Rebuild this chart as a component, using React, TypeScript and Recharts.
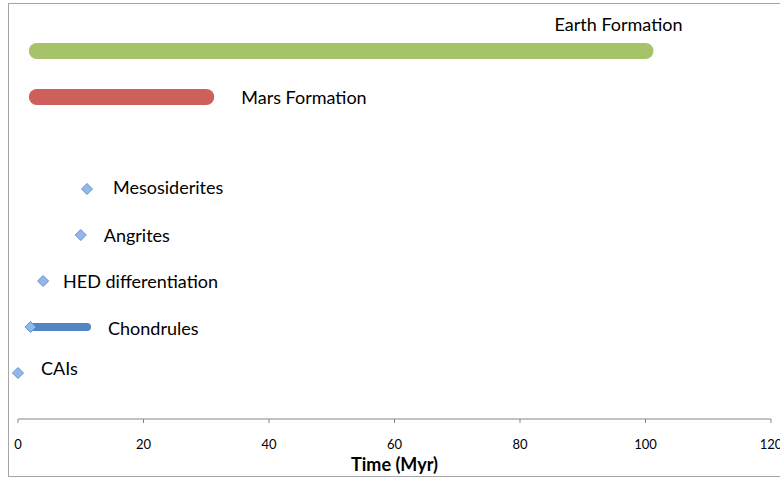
import React from 'react';
import { ComposedChart, Scatter, XAxis, YAxis } from 'recharts';

// ---- data ----
const EVENTS = [
  'CAIs',
  'Chondrules',
  'HED differentiation',
  'Angrites',
  'Mesosiderites',
  'Mars Formation',
  'Earth Formation',
];
const START_MYR = [0, 2, 4, 10, 11, 3, 3];
const END_MYR: (number | null)[] = [null, 11, null, null, null, 30, 100];
const ROW = [1, 2, 3, 4, 5, 7, 8];
const X_TICKS = [0, 20, 40, 60, 80, 100, 120];

// ---- styles ----
const FONT = 'Lato, "Open Sans", sans-serif';
const LINE_STYLE: Record<string, { stroke: string; width: number } | undefined> = {
  Chondrules: { stroke: '#5385C4', width: 8 },
  'Mars Formation': { stroke: '#CD605A', width: 16 },
  'Earth Formation': { stroke: '#A6C36A', width: 16 },
};
const HAS_MARKER: Record<string, boolean> = {
  CAIs: true,
  Chondrules: true,
  'HED differentiation': true,
  Angrites: true,
  Mesosiderites: true,
};
const LABEL_OFFSET: Record<string, { dx: number; dy: number }> = {
  CAIs: { dx: 23, dy: 2 },
  Chondrules: { dx: 21, dy: 8 },
  'HED differentiation': { dx: 20, dy: 7 },
  Angrites: { dx: 23, dy: 7 },
  Mesosiderites: { dx: 26, dy: 5 },
  'Mars Formation': { dx: 35, dy: 7 },
  'Earth Formation': { dx: -91, dy: -20 },
};

const series = EVENTS.map((name, i) => {
  const pts = [{ x: START_MYR[i], y: ROW[i] }];
  const end = END_MYR[i];
  if (end !== null) pts.push({ x: end, y: ROW[i] });
  return { name, data: pts, start: START_MYR[i], end: end ?? START_MYR[i] };
});

const Diamond = ({ cx, cy }: { cx: number; cy: number }) => (
  <path
    d={`M${cx},${cy - 5.5} L${cx + 5.5},${cy} L${cx},${cy + 5.5} L${cx - 5.5},${cy} Z`}
    fill="#92B8EA"
    stroke="#6592D2"
    strokeWidth={1}
  />
);

const makeShape = (s: { name: string; start: number; end: number }) => (props: any) => {
  const { cx, cy, payload } = props;
  if (cx == null || cy == null) return <g />;
  const isStart = payload && payload.x === s.start;
  const isEnd = payload && payload.x === s.end;
  const off = LABEL_OFFSET[s.name];
  return (
    <g>
      {isStart && HAS_MARKER[s.name] ? <Diamond cx={cx} cy={cy} /> : null}
      {isEnd ? (
        <text
          x={cx + off.dx}
          y={cy + off.dy}
          fontFamily={FONT}
          fontSize={18}
          fill="#000"
        >
          {s.name}
        </text>
      ) : null}
    </g>
  );
};

export default function App() {
  return (
    <div
      style={{
        position: 'absolute',
        left: 0,
        top: 0,
        width: 780,
        height: 477,
        overflow: 'hidden',
        background: '#fff',
      }}
    >
      <div
        style={{
          position: 'absolute',
          left: 8,
          top: 3,
          width: 800,
          height: 474,
          boxSizing: 'border-box',
          border: '1px solid #A6A6A6',
        }}
      />
      <div style={{ position: 'absolute', left: 0, top: 0 }}>
        <ComposedChart
          width={780}
          height={477}
          margin={{ top: 5, right: 9, bottom: 0, left: 18 }}
        >
          <XAxis
            type="number"
            dataKey="x"
            domain={[0, 120]}
            ticks={X_TICKS}
            interval={0}
            height={58}
            axisLine={{ stroke: '#868686' }}
            tickLine={{ stroke: '#868686' }}
            tickSize={4}
            tickMargin={17}
            tick={{ fontFamily: FONT, fontSize: 13, fill: '#000' }}
            label={{
              value: 'Time (Myr)',
              position: 'insideBottom',
              offset: 6,
              style: { fontFamily: FONT, fontSize: 18, fontWeight: 700, fill: '#000' },
            }}
          />
          <YAxis type="number" dataKey="y" domain={[0, 9]} hide />
          {series.map((s) => {
            const ls = LINE_STYLE[s.name];
            return (
              <Scatter
                key={s.name}
                name={s.name}
                data={s.data}
                isAnimationActive={false}
                line={
                  ls
                    ? { stroke: ls.stroke, strokeWidth: ls.width, strokeLinecap: 'round' }
                    : false
                }
                lineType="joint"
                shape={makeShape(s)}
              />
            );
          })}
        </ComposedChart>
      </div>
    </div>
  );
}
